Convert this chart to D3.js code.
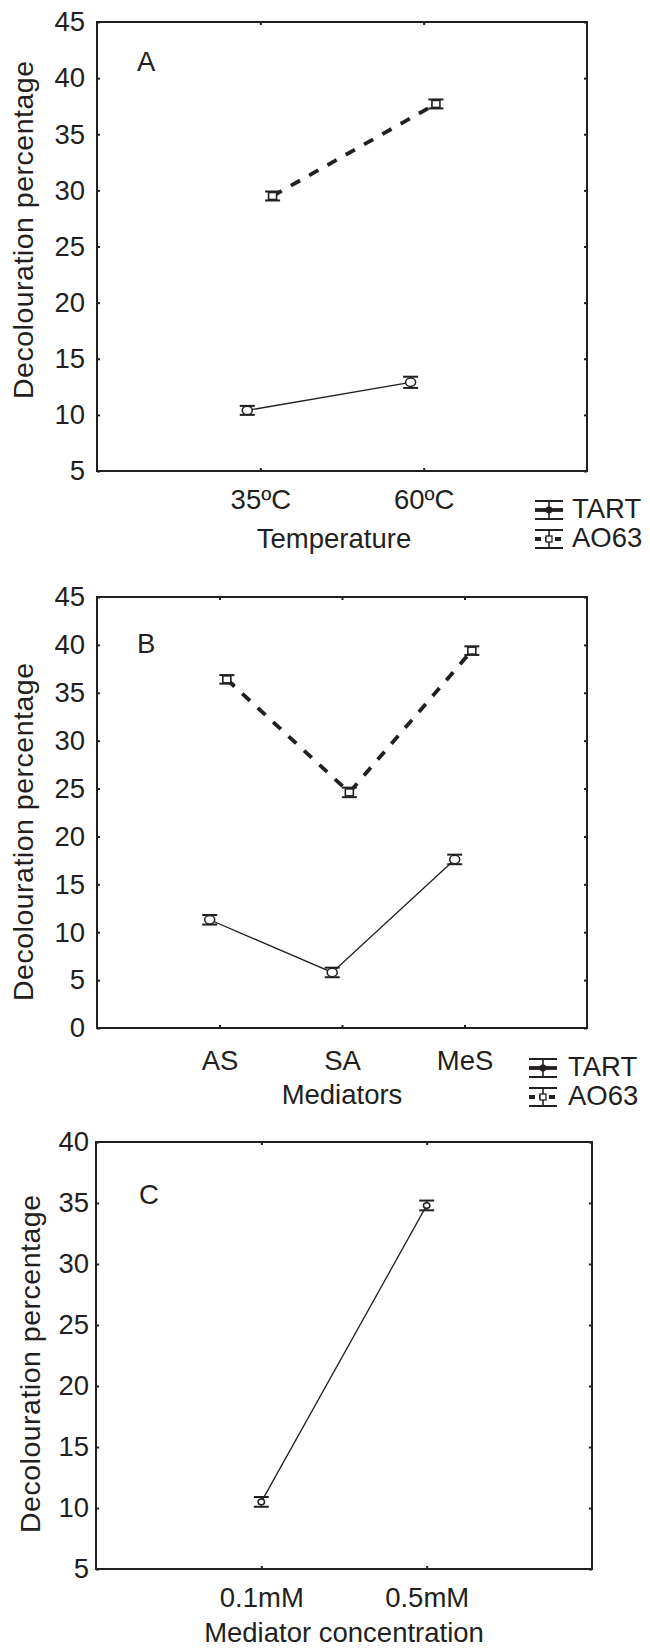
<!DOCTYPE html>
<html>
<head>
<meta charset="utf-8">
<script src="https://cdn.jsdelivr.net/npm/d3@7"></script>
<style>
  html, body { margin: 0; padding: 0; background: #fff; }
  svg { display: block; }
  text { font-family: "Liberation Sans", Arial, sans-serif; fill: #231f20; }
</style>
</head>
<body>
<script>
// ---------------- data ----------------
const seriesNames = ["TART", "AO63"];

const categoriesA = ["35ºC", "60ºC"];
const tartA = [10.4, 12.9];
const tartErrA = [0.4, 0.5];
const ao63A = [29.5, 37.7];
const ao63ErrA = [0.4, 0.4];
const yTicksA = [5, 10, 15, 20, 25, 30, 35, 40, 45];

const categoriesB = ["AS", "SA", "MeS"];
const tartB = [11.3, 5.8, 17.6];
const tartErrB = [0.5, 0.5, 0.5];
const ao63B = [36.4, 24.6, 39.4];
const ao63ErrB = [0.45, 0.5, 0.45];
const yTicksB = [0, 5, 10, 15, 20, 25, 30, 35, 40, 45];

const categoriesC = ["0.1mM", "0.5mM"];
const tartC = [10.5, 34.8];
const tartErrC = [0.4, 0.4];
const yTicksC = [5, 10, 15, 20, 25, 30, 35, 40];

// ---------------- drawing ----------------
const INK = "#231f20";
const svg = d3.select("body").append("svg").attr("width", 650).attr("height", 1652);

function drawPanel(p) {
  const g = svg.append("g");
  const x = d3.scalePoint().domain(p.categories).range([p.left, p.right]).padding(1);
  const y = d3.scaleLinear().domain([p.yTicks[0], p.yTicks[p.yTicks.length - 1]]).range([p.bottom, p.top]);
  const step = x.step();

  // axes
  const yl = g.append("g").attr("transform", `translate(${p.left},0)`)
    .call(d3.axisLeft(y).tickValues(p.yTicks).tickSize(-3).tickPadding(p.yPad).tickFormat(d3.format("d")));
  const yr = g.append("g").attr("transform", `translate(${p.right},0)`)
    .call(d3.axisRight(y).tickValues(p.yTicks).tickSize(-3).tickFormat(""));
  const xb = g.append("g").attr("transform", `translate(0,${p.bottom})`)
    .call(d3.axisBottom(x).tickSize(-3).tickPadding(p.xPad));
  const xt = g.append("g").attr("transform", `translate(0,${p.top})`)
    .call(d3.axisTop(x).tickSize(-3).tickFormat(""));
  [yl, yr, xb, xt].forEach(a => {
    a.select(".domain").remove();
    a.selectAll(".tick line").attr("stroke", INK).attr("stroke-width", 2);
    a.selectAll("text").attr("font-size", 27.5).attr("fill", INK)
      .attr("font-family", '"Liberation Sans", Arial, sans-serif');
  });

  // frame
  g.append("rect").attr("x", p.left).attr("y", p.top)
    .attr("width", p.right - p.left).attr("height", p.bottom - p.top)
    .attr("fill", "none").attr("stroke", INK).attr("stroke-width", 2);

  // series
  p.series.forEach(s => {
    const pts = p.categories.map((c, i) => ({
      x: x(c) + s.dodge * step, y: y(s.values[i]),
      y0: y(s.values[i] - s.errs[i]), y1: y(s.values[i] + s.errs[i])
    }));
    g.append("path").datum(pts)
      .attr("d", d3.line().x(d => d.x).y(d => d.y))
      .attr("fill", "none").attr("stroke", INK)
      .attr("stroke-width", s.dashed ? 3.8 : 1.3)
      .attr("stroke-dasharray", s.dashed ? "10.5,10.5" : null);
    const m = g.selectAll(null).data(pts).enter().append("g");
    m.append("line").attr("x1", d => d.x).attr("x2", d => d.x)
      .attr("y1", d => d.y0).attr("y2", d => d.y1).attr("stroke", INK).attr("stroke-width", 1.5);
    [d => d.y0, d => d.y1].forEach(fy => {
      m.append("line").attr("x1", d => d.x - s.cap).attr("x2", d => d.x + s.cap)
        .attr("y1", fy).attr("y2", fy).attr("stroke", INK).attr("stroke-width", 2);
    });
    if (s.marker === "circle") {
      m.append("ellipse").attr("cx", d => d.x).attr("cy", d => d.y)
        .attr("rx", s.rx).attr("ry", s.ry)
        .attr("fill", "#fff").attr("stroke", INK).attr("stroke-width", 1.5);
    } else {
      m.append("rect").attr("x", d => d.x - 4).attr("y", d => d.y - 3.5)
        .attr("width", 8).attr("height", 7)
        .attr("fill", "#fff").attr("stroke", INK).attr("stroke-width", 1.6);
    }
  });

  // panel letter
  g.append("text").attr("x", p.letterX).attr("y", p.letterY).attr("font-size", 27.5).text(p.letter);

  // axis titles
  g.append("text").attr("x", (p.left + p.right) / 2 + p.xTitleDx).attr("y", p.xTitleY)
    .attr("text-anchor", "middle").attr("font-size", 27.5).text(p.xTitle);
  g.append("text")
    .attr("transform", `translate(${p.yTitleX},${p.yTitleCy}) rotate(-90)`)
    .attr("text-anchor", "middle").attr("font-size", 28.5)
    .attr("textLength", 338).attr("lengthAdjust", "spacing")
    .text("Decolouration percentage");

  // legend
  if (p.legend) {
    const L = p.legend;
    seriesNames.forEach((name, i) => {
      const cy = L.y0 + i * L.dy;
      const lg = g.append("g");
      const xm = L.x + 14;
      lg.append("line").attr("x1", L.x).attr("x2", L.x + 28).attr("y1", cy - 9).attr("y2", cy - 9)
        .attr("stroke", INK).attr("stroke-width", 2);
      lg.append("line").attr("x1", L.x).attr("x2", L.x + 28).attr("y1", cy + 9).attr("y2", cy + 9)
        .attr("stroke", INK).attr("stroke-width", 2);
      lg.append("line").attr("x1", xm).attr("x2", xm).attr("y1", cy - 9).attr("y2", cy + 9)
        .attr("stroke", INK).attr("stroke-width", 1.6);
      lg.append("line").attr("x1", L.x).attr("x2", L.x + 28).attr("y1", cy).attr("y2", cy)
        .attr("stroke", INK).attr("stroke-width", 3.8)
        .attr("stroke-dasharray", i === 1 ? "6,4" : null);
      if (i === 0) {
        lg.append("circle").attr("cx", xm).attr("cy", cy).attr("r", 3.4).attr("fill", INK);
      } else {
        lg.append("rect").attr("x", xm - 3).attr("y", cy - 3).attr("width", 6).attr("height", 6)
          .attr("fill", "#fff").attr("stroke", INK).attr("stroke-width", 1.3);
      }
      lg.append("text").attr("x", L.tx).attr("y", cy + 8).attr("font-size", 27.5).text(name);
    });
  }
}

const tartStyle = { marker: "circle", dashed: false, cap: 7.5, rx: 5, ry: 4.2 };
const aoStyle = { marker: "square", dashed: true, cap: 7.5 };

drawPanel({
  categories: categoriesA, yTicks: yTicksA,
  left: 97, right: 587, top: 22, bottom: 471, yPad: 12, xPad: 18,
  series: [
    Object.assign({ values: tartA, errs: tartErrA, dodge: -0.08 }, tartStyle),
    Object.assign({ values: ao63A, errs: ao63ErrA, dodge: 0.075 }, aoStyle)
  ],
  letter: "A", letterX: 137, letterY: 71,
  xTitle: "Temperature", xTitleDx: -8, xTitleY: 548,
  yTitleX: 33, yTitleCy: 230,
  legend: { x: 535, y0: 510, dy: 29, tx: 572 }
});

drawPanel({
  categories: categoriesB, yTicks: yTicksB,
  left: 97, right: 587, top: 597, bottom: 1028, yPad: 12, xPad: 22,
  series: [
    Object.assign({ values: tartB, errs: tartErrB, dodge: -0.08 }, tartStyle),
    Object.assign({ values: ao63B, errs: ao63ErrB, dodge: 0.06 }, aoStyle)
  ],
  letter: "B", letterX: 137, letterY: 653,
  xTitle: "Mediators", xTitleDx: 0, xTitleY: 1104,
  yTitleX: 33, yTitleCy: 832,
  legend: { x: 529, y0: 1068, dy: 29, tx: 568 }
});

drawPanel({
  categories: categoriesC, yTicks: yTicksC,
  left: 96, right: 592, top: 1142, bottom: 1569, yPad: 7, xPad: 18,
  series: [
    Object.assign({ values: tartC, errs: tartErrC, dodge: 0 }, tartStyle, { rx: 3.2, ry: 2.8 })
  ],
  letter: "C", letterX: 139, letterY: 1204,
  xTitle: "Mediator concentration", xTitleDx: 0, xTitleY: 1642,
  yTitleX: 40, yTitleCy: 1364,
  legend: null
});
</script>
</body>
</html>
